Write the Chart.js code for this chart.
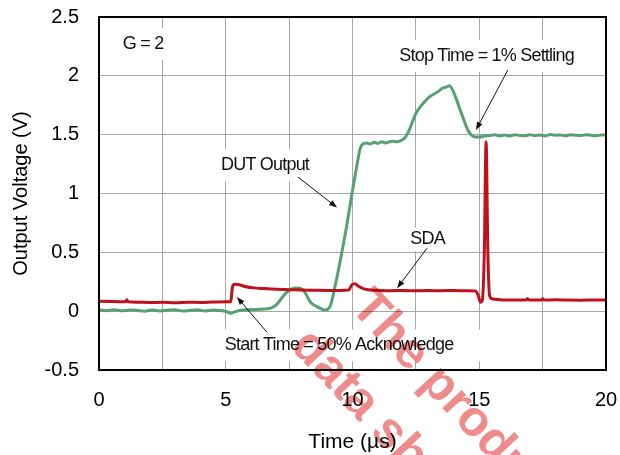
<!DOCTYPE html>
<html>
<head>
<meta charset="utf-8">
<script src="https://cdn.jsdelivr.net/npm/chart.js@4.4.1/dist/chart.umd.min.js"></script>
<style>
  html, body { margin: 0; padding: 0; background: #fff; }
</style>
</head>
<body>
<canvas id="c" width="620" height="455"></canvas>
<script>
// DUT output (green trace), time in us, volts
const dutTime = [0.0, 0.3, 0.6, 0.9, 1.2, 1.5, 1.8, 2.1, 2.4, 2.7, 3.0, 3.3, 3.6, 3.9, 4.2, 4.5, 4.8,
  5.05, 5.2, 5.35, 5.6, 5.9, 6.2, 6.5, 6.8, 7.0, 7.2, 7.4, 7.6, 7.8, 8.0, 8.15, 8.3, 8.45, 8.6, 8.75,
  8.9, 9.05, 9.15, 9.3, 9.5, 9.75, 9.95, 10.15, 10.3, 10.4, 10.55, 10.7, 10.85, 11.0, 11.15, 11.3,
  11.45, 11.6, 11.75, 11.9, 12.05, 12.2, 12.35, 12.5, 12.65, 12.8, 12.95, 13.1, 13.25, 13.4, 13.55,
  13.7, 13.82, 13.95, 14.1, 14.25, 14.4, 14.55, 14.7, 14.85, 15.0, 15.2, 15.4, 15.6, 15.8, 16.0, 16.2,
  16.4, 16.6, 16.8, 17.0, 17.2, 17.4, 17.6, 17.8, 18.0, 18.2, 18.4, 18.6, 18.8, 19.0, 19.2, 19.4,
  19.6, 19.8, 20.0];
const dutVolts = [0.010, 0.004, 0.012, 0.003, 0.010, 0.006, 0.000, 0.010, 0.002, 0.008, 0.012, 0.001,
  0.007, 0.011, 0.002, 0.009, 0.006, -0.005, -0.018, -0.006, 0.008, 0.012, 0.015, 0.018, 0.028, 0.055,
  0.110, 0.160, 0.190, 0.196, 0.190, 0.150, 0.090, 0.055, 0.038, 0.022, 0.010, 0.020, 0.060, 0.200,
  0.410, 0.700, 0.960, 1.210, 1.380, 1.420, 1.430, 1.420, 1.435, 1.425, 1.440, 1.430, 1.440, 1.445,
  1.440, 1.450, 1.470, 1.520, 1.600, 1.680, 1.730, 1.770, 1.805, 1.830, 1.850, 1.870, 1.895, 1.905,
  1.915, 1.880, 1.800, 1.710, 1.620, 1.540, 1.495, 1.480, 1.480, 1.488, 1.492, 1.500, 1.490, 1.497,
  1.488, 1.500, 1.493, 1.490, 1.500, 1.492, 1.498, 1.488, 1.502, 1.495, 1.498, 1.490, 1.500, 1.495,
  1.492, 1.500, 1.496, 1.490, 1.498, 1.496];

// SDA (red trace)
const sdaTime = [0.0, 0.4, 0.8, 1.05, 1.1, 1.15, 1.5, 2.0, 2.5, 3.0, 3.5, 4.0, 4.5, 5.0, 5.2, 5.26,
  5.35, 5.5, 5.8, 6.1, 6.5, 7.0, 7.5, 8.0, 8.5, 9.0, 9.5, 9.85, 10.0, 10.1, 10.25, 10.45, 10.7, 11.0,
  11.5, 12.0, 12.5, 13.0, 13.5, 14.0, 14.5, 14.85, 14.95, 15.05, 15.12, 15.2, 15.27, 15.34, 15.41,
  15.5, 15.8, 16.2, 16.6, 16.85, 16.9, 16.95, 17.2, 17.45, 17.5, 17.55, 18.0, 18.5, 19.0, 19.5, 20.0];
const sdaVolts = [0.085, 0.082, 0.080, 0.080, 0.098, 0.080, 0.076, 0.074, 0.075, 0.072, 0.076, 0.074,
  0.078, 0.080, 0.080, 0.200, 0.228, 0.226, 0.208, 0.198, 0.192, 0.186, 0.183, 0.180, 0.178, 0.176,
  0.176, 0.180, 0.230, 0.232, 0.210, 0.190, 0.180, 0.177, 0.174, 0.176, 0.173, 0.175, 0.174, 0.176,
  0.173, 0.172, 0.140, 0.075, 0.090, 0.500, 1.440, 0.500, 0.130, 0.105, 0.098, 0.095, 0.094, 0.095,
  0.108, 0.095, 0.094, 0.095, 0.106, 0.095, 0.096, 0.094, 0.093, 0.095, 0.094];

const xTickValues = [0, 2.5, 5, 7.5, 10, 12.5, 15, 17.5, 20];
const xTickLabels = ['0', '', '5', '', '10', '', '15', '', '20'];
const yTickValues = [-0.5, 0, 0.5, 1, 1.5, 2, 2.5];
const yTickLabels = ['-0.5', '0', '0.5', '1', '1.5', '2', '2.5'];

const FONT = "'Liberation Sans', Arial, sans-serif";

// text labels placed in data coordinates (time, volts)
const notes = [
  { text: 'G = 2', t: 1.74, v: 2.27 },
  { text: 'Stop Time = 1% Settling', t: 15.29, v: 2.17 },
  { text: 'DUT Output', t: 6.55, v: 1.24 },
  { text: 'SDA', t: 12.96, v: 0.61, boxH: 24 },
  { text: 'Start Time = 50% Acknowledge', t: 9.47, v: -0.29, padX: 32 }
];
const arrows = [
  { from: [16.13, 2.05], to: [14.87, 1.54] },
  { from: [7.85, 1.14], to: [9.39, 0.88] },
  { from: [12.94, 0.535], to: [11.76, 0.195] },
  { from: [6.63, -0.18], to: [5.44, 0.12] }
];

function pairs(xs, ys) {
  return xs.map((x, i) => ({ x: x, y: ys[i] }));
}

const decorations = {
  id: 'decorations',
  beforeDatasetsDraw(chart) {
    const ctx = chart.ctx, xs = chart.scales.x, ys = chart.scales.y;
    ctx.save();
    ctx.font = '18px ' + FONT;
    ctx.letterSpacing = '-0.8px';
    ctx.fillStyle = '#fff';
    notes.forEach(n => {
      const w = ctx.measureText(n.text).width;
      const px = xs.getPixelForValue(n.t), py = ys.getPixelForValue(n.v);
      const padX = n.padX || 8, h = n.boxH || 32;
      ctx.fillRect(px - w / 2 - padX, py - h / 2, w + 2 * padX, h);
    });
    ctx.restore();
  },
  afterDatasetsDraw(chart) {
    const ctx = chart.ctx, xs = chart.scales.x, ys = chart.scales.y, a = chart.chartArea;
    ctx.save();
    ctx.font = '18px ' + FONT;
    ctx.letterSpacing = '-0.8px';
    ctx.fillStyle = '#111';
    ctx.textAlign = 'center';
    ctx.textBaseline = 'middle';
    notes.forEach(n => {
      ctx.fillText(n.text, xs.getPixelForValue(n.t), ys.getPixelForValue(n.v));
    });
    ctx.strokeStyle = '#111';
    ctx.lineWidth = 1;
    arrows.forEach(ar => {
      const x1 = xs.getPixelForValue(ar.from[0]), y1 = ys.getPixelForValue(ar.from[1]);
      const x2 = xs.getPixelForValue(ar.to[0]), y2 = ys.getPixelForValue(ar.to[1]);
      const ang = Math.atan2(y2 - y1, x2 - x1);
      ctx.beginPath();
      ctx.moveTo(x1, y1);
      ctx.lineTo(x2 - 6 * Math.cos(ang), y2 - 6 * Math.sin(ang));
      ctx.stroke();
      ctx.beginPath();
      ctx.moveTo(x2, y2);
      ctx.lineTo(x2 - 8 * Math.cos(ang) + 3 * Math.sin(ang), y2 - 8 * Math.sin(ang) - 3 * Math.cos(ang));
      ctx.lineTo(x2 - 8 * Math.cos(ang) - 3 * Math.sin(ang), y2 - 8 * Math.sin(ang) + 3 * Math.cos(ang));
      ctx.closePath();
      ctx.fill();
    });
    // plot frame
    ctx.strokeStyle = '#000';
    ctx.lineWidth = 2;
    ctx.strokeRect(a.left, a.top, a.right - a.left, a.bottom - a.top);
    ctx.restore();
  },
  afterDraw(chart) {
    // diagonal watermark
    const ctx = chart.ctx;
    ctx.save();
    ctx.globalCompositeOperation = 'multiply';
    ctx.fillStyle = 'rgb(238,140,140)';
    ctx.font = 'bold 50px ' + FONT;
    ctx.textBaseline = 'alphabetic';
    ctx.textAlign = 'left';
    const ang = 47 * Math.PI / 180;
    ctx.translate(349, 308);
    ctx.rotate(ang);
    ctx.fillText('The product', 0, 0);
    ctx.fillText('data sheet', -12, 70);
    ctx.restore();
  }
};

new Chart(document.getElementById('c'), {
  type: 'line',
  data: {
    datasets: [
      {
        label: 'SDA',
        data: pairs(sdaTime, sdaVolts),
        borderColor: '#c0121c',
        borderWidth: 3,
        pointRadius: 0,
        cubicInterpolationMode: 'monotone'
      },
      {
        label: 'DUT Output',
        data: pairs(dutTime, dutVolts),
        borderColor: '#55a172',
        borderWidth: 3,
        pointRadius: 0,
        cubicInterpolationMode: 'monotone'
      }
    ]
  },
  options: {
    responsive: false,
    animation: false,
    layout: { padding: { top: 17, right: 14, bottom: 0, left: 0 } },
    plugins: { legend: { display: false }, tooltip: { enabled: false } },
    scales: {
      x: {
        type: 'linear',
        min: 0,
        max: 20,
        afterFit: s => { s.height = 85; s.paddingLeft = 0; s.paddingRight = 0; },
        afterBuildTicks: s => { s.ticks = xTickValues.map(v => ({ value: v })); },
        grid: { color: '#a6a6a6', lineWidth: 1, drawTicks: false },
        border: { display: false },
        ticks: {
          padding: 18,
          color: '#000',
          font: { family: FONT, size: 20 },
          maxRotation: 0,
          autoSkip: false,
          callback: (v, i) => xTickLabels[i]
        },
        title: {
          display: true,
          text: 'Time (µs)',
          color: '#000',
          font: { family: FONT, size: 21 },
          padding: { top: 0, bottom: 0 }
        }
      },
      y: {
        min: -0.5,
        max: 2.5,
        afterFit: s => { s.width = 99; s.paddingTop = 0; s.paddingBottom = 0; },
        afterBuildTicks: s => { s.ticks = yTickValues.map(v => ({ value: v })); },
        grid: { color: '#a6a6a6', lineWidth: 1, drawTicks: false },
        border: { display: false },
        ticks: {
          padding: 20,
          color: '#000',
          font: { family: FONT, size: 20 },
          autoSkip: false,
          callback: (v, i) => yTickLabels[i]
        },
        title: {
          display: true,
          text: 'Output Voltage (V)',
          color: '#000',
          font: { family: FONT, size: 20 },
          padding: { top: 9, bottom: 0 }
        }
      }
    }
  },
  plugins: [decorations]
});
</script>
</body>
</html>
